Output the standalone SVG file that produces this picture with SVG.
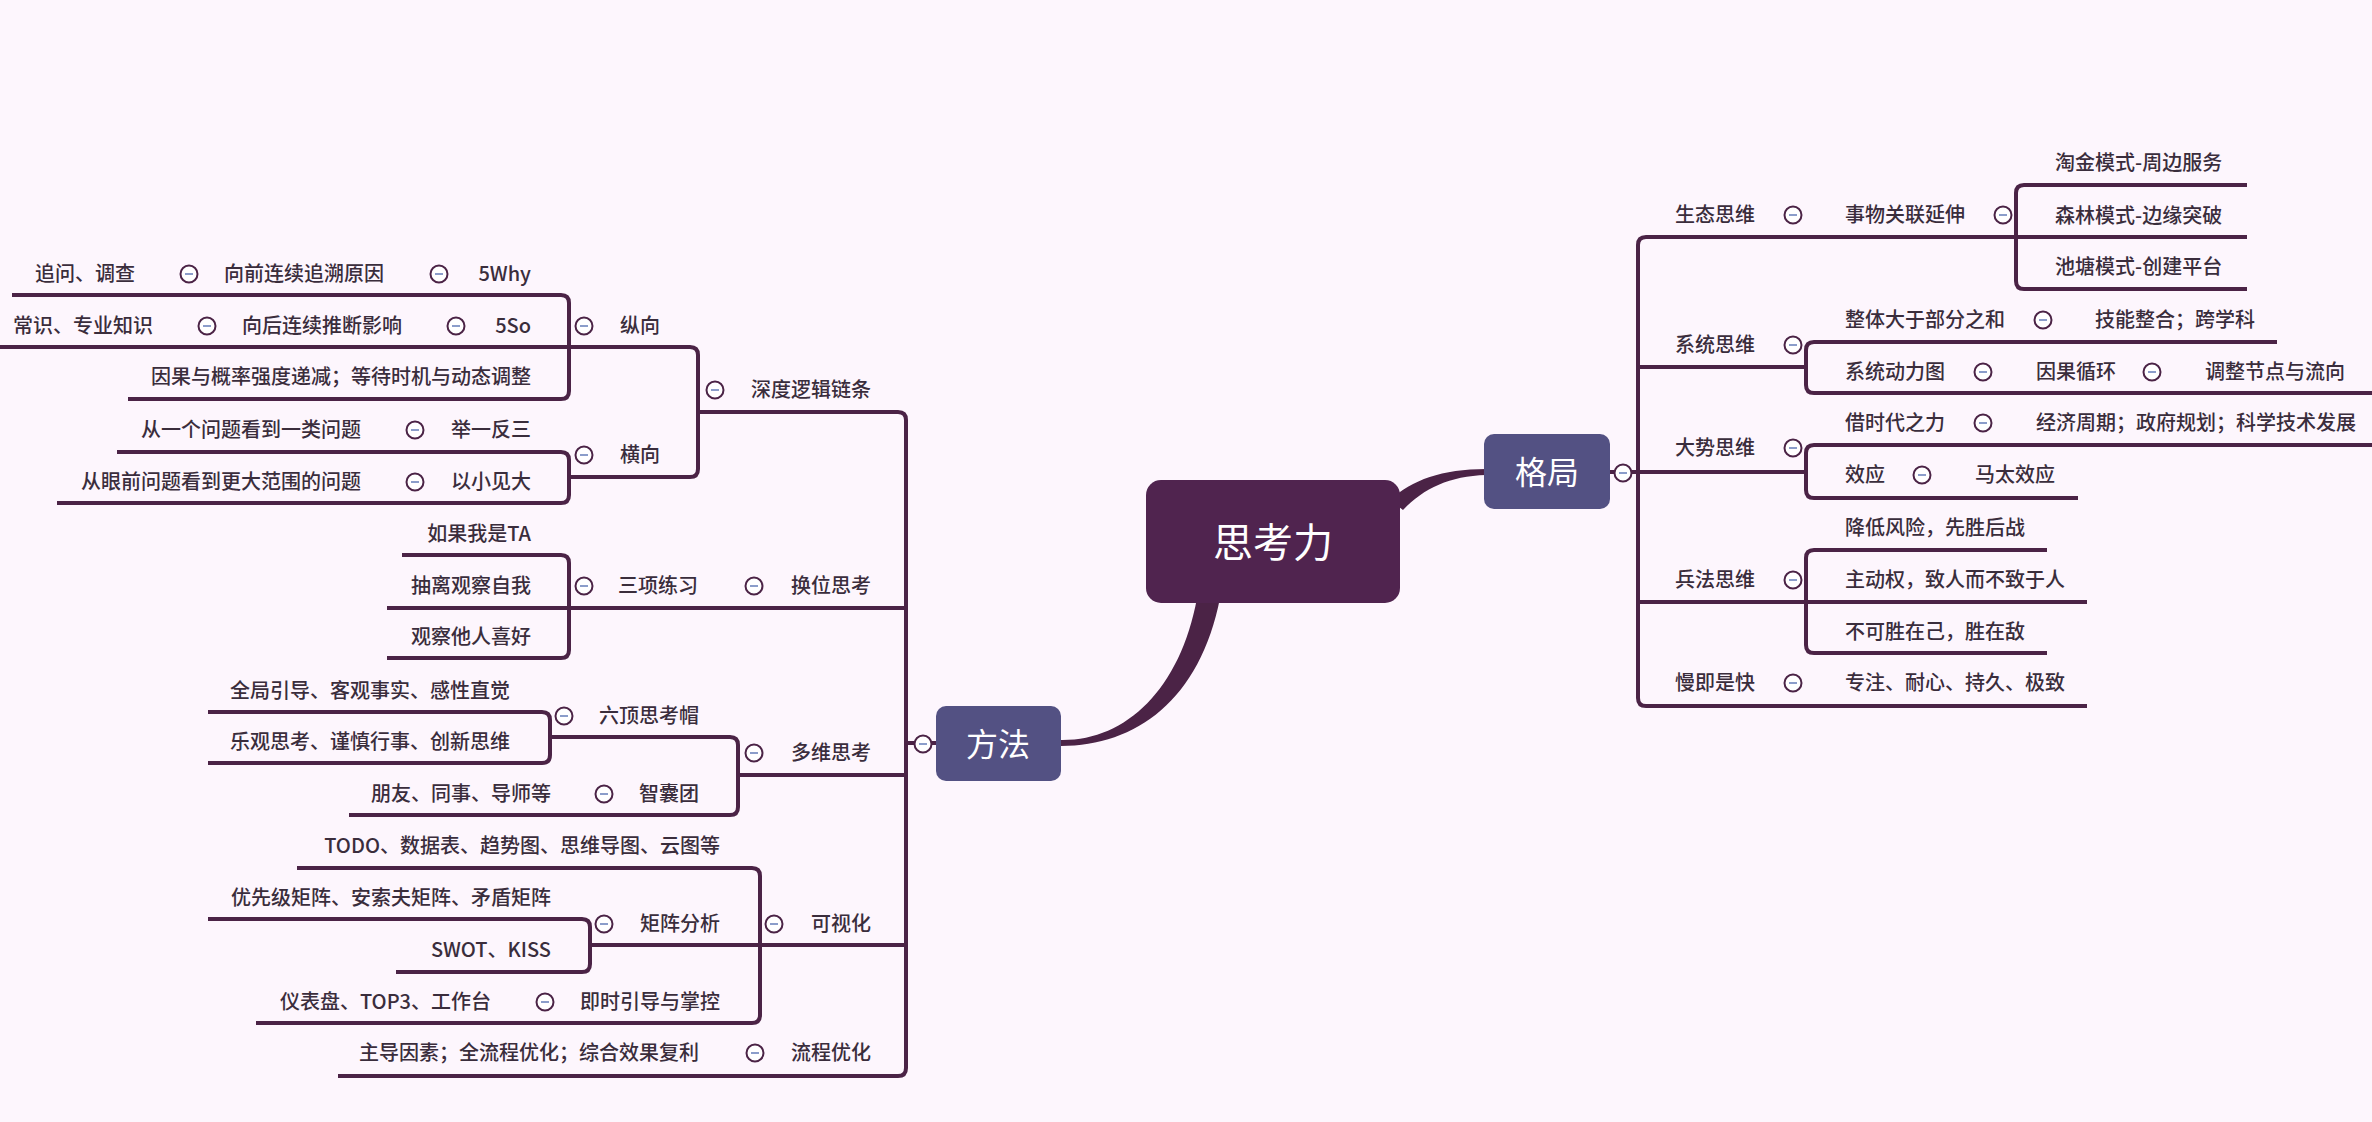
<svg xmlns="http://www.w3.org/2000/svg" xmlns:xlink="http://www.w3.org/1999/xlink" width="2372" height="1122" viewBox="0 0 2372 1122">
<style>
.t{font-family:"Noto Sans CJK SC","Noto Sans",sans-serif;font-size:20px;font-weight:500;fill:#3a2d3c}
.l{text-anchor:end}
.w{font-family:"Noto Sans CJK SC","Noto Sans",sans-serif;fill:#ffffff;text-anchor:middle}
.ln{fill:none;stroke:#4b2346;stroke-width:4}
.br{fill:#4b2346}
</style>
<defs>
<g id="col"><circle cx="0" cy="0" r="8.5" fill="#ffffff" stroke="#4b2346" stroke-width="2"/><line x1="-4" y1="0" x2="4" y2="0" stroke="#8b9dca" stroke-width="2"/></g>
</defs>
<rect width="2372" height="1122" fill="#fdf6fd"/>
<g id="connectors">
<path class="br" d="M1390 500 C1412 480 1442 469 1486 469 L1486 475 C1450 476 1424 488 1403 510 Z"/>
<path class="br" d="M1197 598 C1180 690 1125 741 1061 740 L1061 746 C1136 746 1200 700 1220 598 Z"/>
<path class="ln" d="M2247 237 H1646 Q1638 237 1638 245 V698 Q1638 706 1646 706 H2087"/>
<path class="ln" d="M1638 367 H1806 M1610 472 H1806 M1638 602 H2087"/>
<path class="ln" d="M2247 185 H2024 Q2016 185 2016 193 V281 Q2016 289 2024 289 H2247"/>
<path class="ln" d="M2277 342 H1814 Q1806 342 1806 350 V385 Q1806 393 1814 393 H2372"/>
<path class="ln" d="M2372 445 H1814 Q1806 445 1806 453 V490 Q1806 498 1814 498 H2078"/>
<path class="ln" d="M2047 550 H1814 Q1806 550 1806 558 V645 Q1806 653 1814 653 H2047"/>
<path class="ln" d="M698 412 H898 Q906 412 906 420 V1068 Q906 1076 898 1076 H338"/>
<path class="ln" d="M906 743 H936 M387 608 H906 M738 775 H906 M590 945 H906"/>
<path class="ln" d="M0 347 H690 Q698 347 698 355 V469 Q698 477 690 477 H569"/>
<path class="ln" d="M12 295 H561 Q569 295 569 303 V391 Q569 399 561 399 H128"/>
<path class="ln" d="M117 452 H561 Q569 452 569 460 V495 Q569 503 561 503 H57"/>
<path class="ln" d="M402 555 H561 Q569 555 569 563 V650 Q569 658 561 658 H387"/>
<path class="ln" d="M208 712 H542 Q550 712 550 720 V755 Q550 763 542 763 H208"/>
<path class="ln" d="M550 737 H730 Q738 737 738 745 V807 Q738 815 730 815 H349"/>
<path class="ln" d="M297 868 H752 Q760 868 760 876 V1015 Q760 1023 752 1023 H256"/>
<path class="ln" d="M208 919 H582 Q590 919 590 927 V964 Q590 972 582 972 H396"/>
</g>
<g id="root"><rect x="1146" y="480" width="254" height="123" rx="15" fill="#50244f"/><text class="w" x="1273" y="557" font-size="40">思考力</text></g>
<g id="geju"><rect x="1484" y="434" width="126" height="75" rx="10" fill="#535183"/><text class="w" x="1547" y="484" font-size="32">格局</text><use xlink:href="#col" x="1623" y="473"/></g>
<g id="fangfa"><rect x="936" y="706" width="125" height="75" rx="10" fill="#535183"/><text class="w" x="998" y="756" font-size="32">方法</text><use xlink:href="#col" x="923" y="744"/></g>
<g id="shengtai"><text class="t" x="1675" y="222">生态思维</text><use xlink:href="#col" x="1793" y="215"/></g>
<g id="shiwu"><text class="t" x="1845" y="222">事物关联延伸</text><use xlink:href="#col" x="2003" y="215"/></g>
<g id="taojin"><text class="t" x="2055" y="170">淘金模式-周边服务</text></g>
<g id="senlin"><text class="t" x="2055" y="223">森林模式-边缘突破</text></g>
<g id="chitang"><text class="t" x="2055" y="274">池塘模式-创建平台</text></g>
<g id="xitong"><text class="t" x="1675" y="352">系统思维</text><use xlink:href="#col" x="1793" y="345"/></g>
<g id="zhengti"><text class="t" x="1845" y="327">整体大于部分之和</text><use xlink:href="#col" x="2043" y="320"/></g>
<g id="jineng"><text class="t" x="2095" y="327">技能整合；跨学科</text></g>
<g id="dongli"><text class="t" x="1845" y="379">系统动力图</text><use xlink:href="#col" x="1983" y="372"/></g>
<g id="yinguo"><text class="t" x="2036" y="379">因果循环</text><use xlink:href="#col" x="2152" y="372"/></g>
<g id="tiaozheng"><text class="t" x="2205" y="379">调整节点与流向</text></g>
<g id="dashi"><text class="t" x="1675" y="455">大势思维</text><use xlink:href="#col" x="1793" y="448"/></g>
<g id="jieshidai"><text class="t" x="1845" y="430">借时代之力</text><use xlink:href="#col" x="1983" y="423"/></g>
<g id="jingji"><text class="t" x="2036" y="430">经济周期；政府规划；科学技术发展</text></g>
<g id="xiaoying"><text class="t" x="1845" y="482">效应</text><use xlink:href="#col" x="1922" y="475"/></g>
<g id="mata"><text class="t" x="1975" y="482">马太效应</text></g>
<g id="bingfa"><text class="t" x="1675" y="587">兵法思维</text><use xlink:href="#col" x="1793" y="580"/></g>
<g id="jiangdi"><text class="t" x="1845" y="535">降低风险，先胜后战</text></g>
<g id="zhudong"><text class="t" x="1845" y="587">主动权，致人而不致于人</text></g>
<g id="bukesheng"><text class="t" x="1845" y="639">不可胜在己，胜在敌</text></g>
<g id="manjishikuai"><text class="t" x="1675" y="690">慢即是快</text><use xlink:href="#col" x="1793" y="683"/></g>
<g id="zhuanzhu"><text class="t" x="1845" y="690">专注、耐心、持久、极致</text></g>
<g id="zhuiwen"><text class="t l" x="135" y="281">追问、调查</text></g>
<g id="xiangqian"><text class="t l" x="384" y="281">向前连续追溯原因</text><use xlink:href="#col" x="189" y="274"/></g>
<g id="5why"><text class="t l" x="531" y="281">5Why</text><use xlink:href="#col" x="439" y="274"/></g>
<g id="changshi"><text class="t l" x="153" y="333">常识、专业知识</text></g>
<g id="xianghou"><text class="t l" x="402" y="333">向后连续推断影响</text><use xlink:href="#col" x="207" y="326"/></g>
<g id="5so"><text class="t l" x="531" y="333">5So</text><use xlink:href="#col" x="456" y="326"/></g>
<g id="zongxiang"><text class="t l" x="660" y="333">纵向</text><use xlink:href="#col" x="584" y="326"/></g>
<g id="yinguogailv"><text class="t l" x="531" y="384">因果与概率强度递减；等待时机与动态调整</text></g>
<g id="shendu"><text class="t l" x="871" y="397">深度逻辑链条</text><use xlink:href="#col" x="715" y="390"/></g>
<g id="congyige"><text class="t l" x="361" y="437">从一个问题看到一类问题</text></g>
<g id="juyifansan"><text class="t l" x="531" y="437">举一反三</text><use xlink:href="#col" x="415" y="430"/></g>
<g id="hengxiang"><text class="t l" x="660" y="462">横向</text><use xlink:href="#col" x="584" y="455"/></g>
<g id="congyanqian"><text class="t l" x="361" y="489">从眼前问题看到更大范围的问题</text></g>
<g id="yixiaojianda"><text class="t l" x="531" y="489">以小见大</text><use xlink:href="#col" x="415" y="482"/></g>
<g id="ruguo"><text class="t l" x="531" y="541">如果我是TA</text></g>
<g id="chouli"><text class="t l" x="531" y="593">抽离观察自我</text></g>
<g id="sanxiang"><text class="t l" x="698" y="593">三项练习</text><use xlink:href="#col" x="584" y="586"/></g>
<g id="huanwei"><text class="t l" x="871" y="593">换位思考</text><use xlink:href="#col" x="754" y="586"/></g>
<g id="guancha"><text class="t l" x="531" y="644">观察他人喜好</text></g>
<g id="quanju"><text class="t l" x="510" y="698">全局引导、客观事实、感性直觉</text></g>
<g id="liuding"><text class="t l" x="699" y="723">六顶思考帽</text><use xlink:href="#col" x="564" y="716"/></g>
<g id="leguan"><text class="t l" x="510" y="749">乐观思考、谨慎行事、创新思维</text></g>
<g id="duowei"><text class="t l" x="871" y="760">多维思考</text><use xlink:href="#col" x="754" y="753"/></g>
<g id="pengyou"><text class="t l" x="551" y="801">朋友、同事、导师等</text></g>
<g id="zhinang"><text class="t l" x="699" y="801">智囊团</text><use xlink:href="#col" x="604" y="794"/></g>
<g id="todo"><text class="t l" x="720" y="853">TODO、数据表、趋势图、思维导图、云图等</text></g>
<g id="youxianji"><text class="t l" x="551" y="905">优先级矩阵、安索夫矩阵、矛盾矩阵</text></g>
<g id="juzhen"><text class="t l" x="720" y="931">矩阵分析</text><use xlink:href="#col" x="604" y="924"/></g>
<g id="keshihua"><text class="t l" x="871" y="931">可视化</text><use xlink:href="#col" x="774" y="924"/></g>
<g id="swot"><text class="t l" x="551" y="957">SWOT、KISS</text></g>
<g id="yibiaopan"><text class="t l" x="491" y="1009">仪表盘、TOP3、工作台</text></g>
<g id="jishi"><text class="t l" x="720" y="1009">即时引导与掌控</text><use xlink:href="#col" x="545" y="1002"/></g>
<g id="zhudao"><text class="t l" x="699" y="1060">主导因素；全流程优化；综合效果复利</text></g>
<g id="liucheng"><text class="t l" x="871" y="1060">流程优化</text><use xlink:href="#col" x="755" y="1053"/></g>
</svg>
